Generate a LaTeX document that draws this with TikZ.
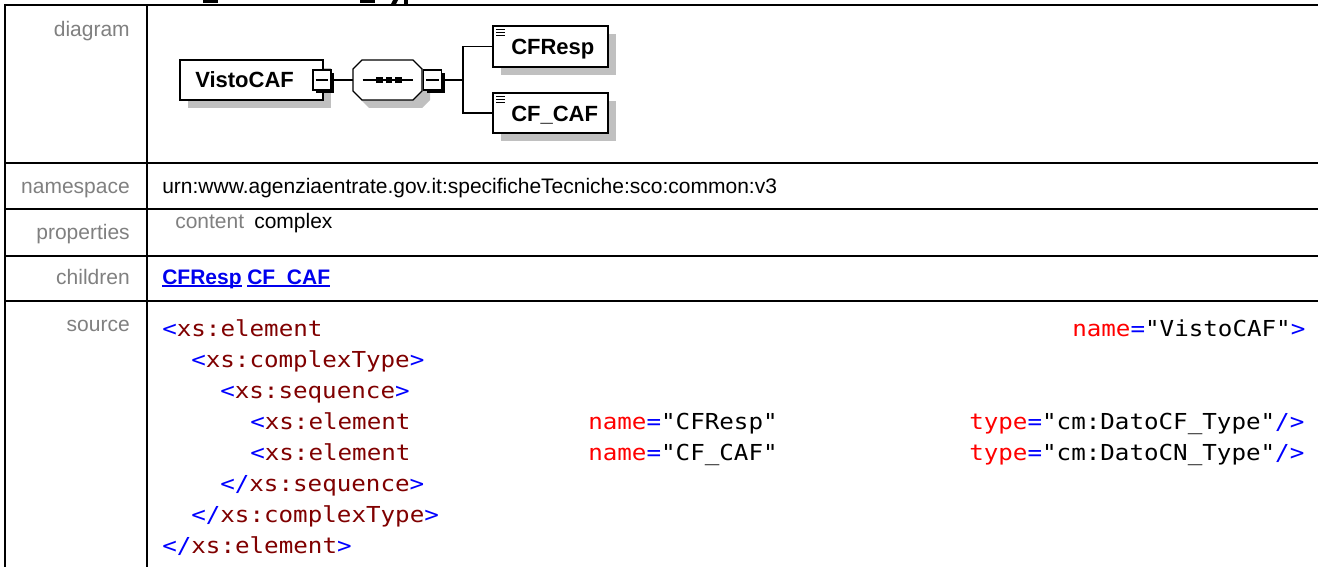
\documentclass[tikz,border=0pt]{standalone}
\usepackage{fontspec}
\setmainfont{Liberation Sans}
\newfontfamily\codefont[FakeStretch=1.1]{DejaVu Sans Mono}
\usetikzlibrary{shadows}
\definecolor{shgray}{RGB}{192,192,192}
\definecolor{lblgray}{RGB}{128,128,128}
\definecolor{xblue}{RGB}{0,0,255}
\definecolor{xmaroon}{RGB}{128,0,0}
\definecolor{xred}{RGB}{255,0,0}
\definecolor{linkblue}{RGB}{0,0,238}
\newcommand\tB[1]{\textcolor{xblue}{#1}}
\newcommand\tM[1]{\textcolor{xmaroon}{#1}}
\newcommand\tR[1]{\textcolor{xred}{#1}}
\begin{document}
\begin{tikzpicture}[x=0.75pt,y=-0.75pt,
  tline/.style={line width=1.5pt},
  conn/.style={line width=0.9pt},
  lbl/.style={anchor=base east,inner sep=0,text=lblgray,font=\fontsize{15.75}{18}\selectfont},
  val/.style={anchor=base west,inner sep=0,font=\fontsize{15.75}{18}\selectfont},
  link/.style={anchor=base west,inner sep=0,text=linkblue,font=\bfseries\fontsize{15.75}{18}\selectfont},
  code/.style={anchor=base west,inner sep=0,font=\codefont\fontsize{16.5}{20}\selectfont},
  elshadow/.style={drop shadow={shadow xshift=6pt,shadow yshift=-6pt,fill=shgray,opacity=1}},
  elbox/.style={draw,line width=0.9pt,fill=white,inner sep=0,elshadow},
  eltext/.style={anchor=base west,inner sep=0,font=\bfseries\fontsize{16.5}{19}\selectfont},
  mbox/.style={draw,line width=0.9pt,fill=white,inner sep=0,minimum width=13.5pt,minimum height=15pt,
    drop shadow={shadow xshift=2.4pt,shadow yshift=-2.4pt,fill=black,opacity=1}},
  dot/.style={fill=black,inner sep=0,minimum width=5pt,minimum height=4.2pt},
  icon/.style={line width=0.8pt}
]
\useasboundingbox (0,0) rectangle (1318,567);
\fill[white] (0,0) rectangle (1318,567);

% clipped title fragments at the very top
\fill (203,0.5) rectangle (218,3);
\fill (360,0.5) rectangle (375,3);
\fill (393,0) -- (398,0) -- (396,4) -- (391,4) -- cycle;
\fill (404,0) rectangle (407.5,4);

% table grid
\draw[tline] (5,5) -- (1318,5);
\draw[tline] (5,4) -- (5,567);
\draw[tline] (147,5) -- (147,567);
\draw[tline] (5,163) -- (1318,163);
\draw[tline] (5,209) -- (1318,209);
\draw[tline] (5,256) -- (1318,256);
\draw[tline] (5,301) -- (1318,301);

% row labels
\node[lbl] (ldiagram) at (130,37) {diagram};
\node[lbl] (lnamespace) at (130,193) {namespace};
\node[lbl] (lproperties) at (130,239) {properties};
\node[lbl] (lchildren) at (130,284) {children};
\node[lbl] (lsource) at (130,331) {source};

% values
\node[val] (ns) at (162,193) {urn:www.agenziaentrate.gov.it:specificheTecniche:sco:common:v3};
\node[val,text=lblgray] (pcontent) at (175,228) {content};
\node[val] (pcomplex) at (254,228) {complex};
\node[link] (ch1) at (162,284) {CFResp};
\node[link] (ch2) at (247,284) {CF\_CAF};
\draw[line width=1.1pt,linkblue] ([yshift=-1.6pt]ch1.base west) -- ([yshift=-1.6pt]ch1.base east);
\draw[line width=1.1pt,linkblue] ([yshift=-1.6pt]ch2.base west) -- ([yshift=-1.6pt]ch2.base east);

% diagram
\node[elbox,minimum width=107.25pt,minimum height=30pt] (visto) at (251.5,80) {};
\node[eltext] (vistot) at (195,87.5) {VistoCAF};
\node[mbox] (vmin) at (322,80) {};
\draw[conn] ([xshift=2.5pt]vmin.west) -- ([xshift=-2.5pt]vmin.east);

% sequence compositor (octagon)
\fill[shgray] (369,68) -- (422,68) -- (430,76) -- (430,100) -- (422,108) -- (369,108) -- (361,100) -- (361,76) -- cycle;
\draw[line width=0.9pt,fill=white] (362,60) -- (413,60) -- (422,69) -- (422,91) -- (413,100) -- (362,100) -- (353,91) -- (353,69) -- cycle;
\node[inner sep=0,minimum width=51.75pt,minimum height=30pt] (seq) at (387.5,80) {};
\node[mbox] (smin) at (432.5,80) {};
\draw[conn] ([xshift=2.5pt]smin.west) -- ([xshift=-2.5pt]smin.east);
\draw[conn] ([xshift=7.5pt]seq.west) -- ([xshift=-7pt]seq.east);
\node[dot] (d1) at (379.5,80) {};
\node[dot] (d2) at (389,80) {};
\node[dot] (d3) at (398.5,80) {};

\node[elbox,minimum width=86.25pt,minimum height=30.75pt] (cfresp) at (550.5,46.5) {};
\node[eltext] (cfrespt) at (511,55) {CFResp};
\node[elbox,minimum width=86.25pt,minimum height=30pt] (cfcaf) at (550.5,113) {};
\node[eltext] (cfcaft) at (511,121.5) {CF\_CAF};
\foreach \b in {cfresp,cfcaf}{
  \foreach \k in {4.5,7.5,10.5}{
    \draw[icon] ([shift={(4,\k)}]\b.north west) -- ++(9,0);
  }
}

\coordinate (br) at (463,80);
\draw[conn] (vmin.east) -- (seq.west);
\draw[conn] (smin.east) -- (br);
\draw[conn] (cfresp.west) -| (br) |- (cfcaf.west);

% source code
\node[code] (s1a) at (162,336) {\tB{<}\tM{xs:element}};
\node[code] (s1b) at (1072,336) {\tR{name}\tB{=}"VistoCAF"\tB{>}};
\node[code] (s2) at (191,367) {\tB{<}\tM{xs:complexType}\tB{>}};
\node[code] (s3) at (220,398) {\tB{<}\tM{xs:sequence}\tB{>}};
\node[code] (s4a) at (250,429) {\tB{<}\tM{xs:element}};
\node[code] (s4b) at (588,429) {\tR{name}\tB{=}"CFResp"};
\node[code] (s4c) at (969,429) {\tR{type}\tB{=}"cm:DatoCF\_Type"\tB{/>}};
\node[code] (s5a) at (250,460) {\tB{<}\tM{xs:element}};
\node[code] (s5b) at (588,460) {\tR{name}\tB{=}"CF\_CAF"};
\node[code] (s5c) at (969,460) {\tR{type}\tB{=}"cm:DatoCN\_Type"\tB{/>}};
\node[code] (s6) at (220,491) {\tB{</}\tM{xs:sequence}\tB{>}};
\node[code] (s7) at (191,522) {\tB{</}\tM{xs:complexType}\tB{>}};
\node[code] (s8) at (162,553) {\tB{</}\tM{xs:element}\tB{>}};
\end{tikzpicture}
\end{document}
